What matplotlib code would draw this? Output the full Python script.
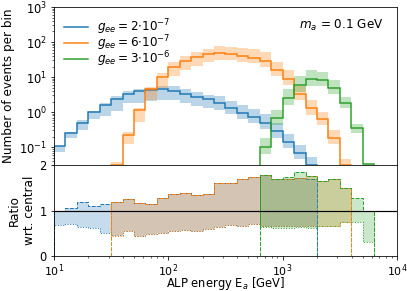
import numpy as np
import matplotlib
matplotlib.use("Agg")
import matplotlib.pyplot as plt

# bin edges (GeV), log-spaced 10 bins per decade
edges = np.array([10.0, 12.59, 15.85, 19.95, 25.12, 31.62, 39.81, 50.12, 63.10, 79.43,
                  100.0, 125.9, 158.5, 199.5, 251.2, 316.2, 398.1, 501.2, 631.0, 794.3,
                  1000.0, 1259, 1585, 1995, 2512, 3162, 3981, 5012, 6310, 7943])

labels = [r"$g_{ee} = 2{\cdot}10^{-7}$", r"$g_{ee} = 6{\cdot}10^{-7}$", r"$g_{ee} = 3{\cdot}10^{-6}$"]
colors = ["#1f77b4", "#ff7f0e", "#2ca02c"]

# series 1: g_ee = 2e-7 (bins 0..22)
start_b = 0
central_b = [0.109, 0.26, 0.48, 1.0, 1.58, 2.35, 3.2, 4.0, 4.4, 4.45, 4.07, 3.27, 2.74, 2.29,
             1.84, 1.27, 0.95, 0.71, 0.48, 0.28, 0.14, 0.069, 0.031]
up_b = [1.0, 1.06, 1.20, 1.11, 1.14, 1.20, 1.27, 1.16, 1.14, 1.28, 1.38, 1.40, 1.34, 1.37,
        1.61, 1.61, 1.69, 1.74, 1.78, 1.69, 1.71, 1.72, 1.70]
lo_b = [0.68, 0.70, 0.63, 0.62, 0.50, 0.46, 0.56, 0.45, 0.48, 0.50, 0.56, 0.57, 0.55, 0.59,
        0.64, 0.68, 0.67, 0.70, 0.67, 0.66, 0.66, 0.66, 0.66]

# series 2: g_ee = 6e-7 (bins 5..25)
start_o = 5
central_o = [0.031, 0.22, 1.14, 4.7, 10.0, 19.0, 28.0, 38.0, 46.0, 48.0, 45.0, 40.0, 36.0,
             29.0, 16.3, 9.1, 3.3, 1.27, 0.62, 0.18, 0.031]
up_o = [1.20, 1.27, 1.16, 1.14, 1.28, 1.38, 1.40, 1.34, 1.37, 1.61, 1.61, 1.69, 1.74, 1.78,
        1.69, 1.71, 1.72, 1.76, 1.65, 1.69, 1.50]
lo_o = [0.45, 0.56, 0.45, 0.48, 0.50, 0.56, 0.57, 0.55, 0.59, 0.64, 0.68, 0.67, 0.70, 0.67,
        0.66, 0.66, 0.66, 0.66, 0.67, 0.67, 0.74]

# series 3: g_ee = 3e-6 (bins 18..27)
start_g = 18
central_g = [0.10, 0.70, 2.6, 5.9, 8.9, 8.2, 4.8, 1.78, 0.35, 0.032]
up_g = [1.78, 1.69, 1.74, 1.85, 1.76, 1.65, 1.69, 1.50, 1.28, 1.0]
lo_g = [0.65, 0.62, 0.62, 0.65, 0.62, 0.67, 0.67, 0.74, 0.74, 0.30]

series = [(start_b, central_b, up_b, lo_b),
          (start_o, central_o, up_o, lo_o),
          (start_g, central_g, up_g, lo_g)]

plt.rcParams["font.size"] = 12
plt.rcParams["xtick.labelsize"] = 11
plt.rcParams["ytick.labelsize"] = 11.5

DPI = 72
fig = plt.figure(figsize=(407 / DPI, 291 / DPI), dpi=DPI)
gs = fig.add_gridspec(2, 1, height_ratios=[7, 4], hspace=0.0,
                      left=54 / 407, right=397 / 407, top=1 - 7 / 291, bottom=1 - 256 / 291)
ax1 = fig.add_subplot(gs[0])
ax2 = fig.add_subplot(gs[1], sharex=ax1)

for (start, c, u, l), col, lab in zip(series, colors, labels):
    c = np.asarray(c); u = np.asarray(u); l = np.asarray(l)
    e = edges[start:start + len(c) + 1]
    # top panel
    ax1.stairs(c * u, e, baseline=c * l, fill=True, color=col, alpha=0.3, lw=0)
    ax1.stairs(c, e, color=col, lw=1.5, label=lab)
    # ratio panel
    ax2.stairs(u, e, baseline=l, fill=True, color=col, alpha=0.25, lw=0)
    ax2.stairs(u, e, color=col, lw=1.0, ls="--")
    ax2.stairs(l, e, color=col, lw=1.0, ls=":")
    ax2.vlines([e[0]], [l[0]], [u[0]], colors=col, lw=1.0, linestyles="--")
    ax2.vlines([e[-1]], [l[-1]], [u[-1]], colors=col, lw=1.0, linestyles=":")

ax1.set_xscale("log")
ax1.set_yscale("log")
ax1.set_xlim(10, 1e4)
ax1.set_ylim(0.03, 1000)
ax1.set_ylabel("Number of events per bin")
ax1.tick_params(axis="x", which="both", bottom=False, labelbottom=False)
ax1.legend(loc="upper left", frameon=False, fontsize=12, labelspacing=-0.3,
           borderaxespad=0.45, handlelength=2.0, handletextpad=0.7)
ax1.text(0.96, 0.885, r"$m_a$ = 0.1 GeV", transform=ax1.transAxes, ha="right", va="center",
         fontsize=12)

ax2.axhline(1.0, color="black", lw=1.2, zorder=5)
ax2.set_ylim(0, 2)
ax2.set_yticks([0, 1, 2])
ax2.set_ylabel("Ratio\nwrt. central")
ax2.tick_params(axis="x", which="major", pad=2.5)
ax2.set_xlabel(r"ALP energy E$_a$ [GeV]", fontsize=11.5)
ax2.xaxis.set_label_coords(0.5, -0.215)

fig.savefig("out.png", dpi=DPI)
